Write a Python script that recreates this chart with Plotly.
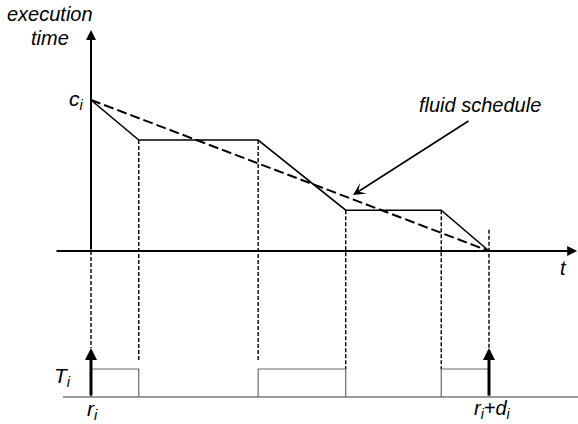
import plotly.graph_objects as go

# ---- data ----
t_knots = [0, 1.2, 4.2, 6.4, 8.8, 10]          # switching instants
remaining = [1.0, 0.735, 0.735, 0.27, 0.27, 0.0]  # remaining execution time
fluid_t = [0, 10]
fluid_rem = [1.0, 0.0]
run_start = [0, 4.2, 8.8]
run_end = [1.2, 6.4, 10]
release, deadline = 0, 10

# ---- layout constants (pixel geometry helpers) ----
W, H = 578, 424
X0_PX, XU = 91, 39.8      # t=0 pixel, px per unit
Y0_PX, YU = 251, 151      # rem=0 pixel, px per unit
STRIP_BASE = -(397 - Y0_PX) / YU
STRIP_TOP = -(369 - Y0_PX) / YU
ARROW_TIP = -(348 - Y0_PX) / YU
DOT_END = -(362 - Y0_PX) / YU
xr = [-X0_PX / XU, (W - X0_PX) / XU]
yr = [-(H - Y0_PX) / YU, Y0_PX / YU]

FONT = "Liberation Sans"
fig = go.Figure()

# dotted verticals
dot = dict(color="black", width=1.4, dash="4px,2px")
short_drop = {run_end[0], run_start[1]}
for i, (tt, rr) in enumerate(zip(t_knots, remaining)):
    if i == 0:
        y_from, y_to = 0, ARROW_TIP
    elif i == len(t_knots) - 1:
        y_from, y_to = 0.14, ARROW_TIP
    else:
        y_from = rr
        y_to = DOT_END if tt in short_drop else STRIP_TOP
    fig.add_trace(go.Scatter(x=[tt, tt], y=[y_from, y_to], mode="lines", line=dot, hoverinfo="skip"))

# strip baseline and run boxes
fig.add_trace(go.Scatter(x=[-(X0_PX - 63) / XU, xr[1]], y=[STRIP_BASE, STRIP_BASE], mode="lines",
                         line=dict(color="#7a7a7a", width=1.5), hoverinfo="skip"))
for s, e in zip(run_start, run_end):
    fig.add_trace(go.Scatter(x=[s, s, e, e], y=[STRIP_BASE, STRIP_TOP, STRIP_TOP, STRIP_BASE], mode="lines",
                             line=dict(color="#6a6a6a", width=1.2), hoverinfo="skip"))

# execution curve & fluid schedule
fig.add_trace(go.Scatter(x=t_knots, y=remaining, mode="lines", line=dict(color="black", width=1.6), hoverinfo="skip"))
fig.add_trace(go.Scatter(x=fluid_t, y=fluid_rem, mode="lines",
                         line=dict(color="black", width=2, dash="10px,4px"), hoverinfo="skip"))

def arrow(x, y, ax, ay, w=2, head=2, size=1.0):
    fig.add_annotation(x=x, y=y, ax=ax, ay=ay, xref="x", yref="y", axref="x", ayref="y",
                       showarrow=True, arrowhead=head, arrowsize=size, arrowwidth=w,
                       arrowcolor="black", text="", standoff=0, font=dict(size=10))

# axes arrows
arrow(0, (Y0_PX - 30) / YU, 0, 0, w=2)
arrow(xr[1] - 0.02, 0, -(X0_PX - 55) / XU, 0, w=2)
# release / deadline arrows
arrow(release, ARROW_TIP, release, STRIP_BASE, w=3, size=0.8)
arrow(deadline, ARROW_TIP, deadline, STRIP_BASE, w=3, size=0.8)
# fluid schedule pointer
arrow((353 - X0_PX) / XU, (Y0_PX - 195) / YU, (470 - X0_PX) / XU, (Y0_PX - 120) / YU, w=1.6, head=3, size=1.3)

def label(text, px, py, size=20, xanchor="center"):
    fig.add_annotation(x=px / W, y=1 - py / H, xref="paper", yref="paper", text=text, showarrow=False,
                       xanchor=xanchor, yanchor="middle", font=dict(family=FONT, size=size, color="black"))

label("<i>execution</i>", 50, 14, 20)
label("<i>time</i>", 50, 38, 20)
label("<i>c<sub>i</sub></i>", 86, 100, 21, "right")
label("<i>fluid schedule</i>", 480, 105, 20)
label("<i>t</i>", 563, 268, 20)
label("<i>T<sub>i</sub></i>", 62, 377, 21)
label("<i>r<sub>i</sub></i>", 92, 410, 21)
label("<i>r<sub>i</sub>+d<sub>i</sub></i>", 492, 409, 20)

fig.update_layout(width=W, height=H, margin=dict(l=0, r=0, t=0, b=0), showlegend=False,
                  plot_bgcolor="white", paper_bgcolor="white")
fig.update_xaxes(range=xr, visible=False, fixedrange=True)
fig.update_yaxes(range=yr, visible=False, fixedrange=True)
fig.write_html("out.html", config={"displayModeBar": False},
               post_script="document.body.style.margin='0';document.body.style.overflow='hidden';")
